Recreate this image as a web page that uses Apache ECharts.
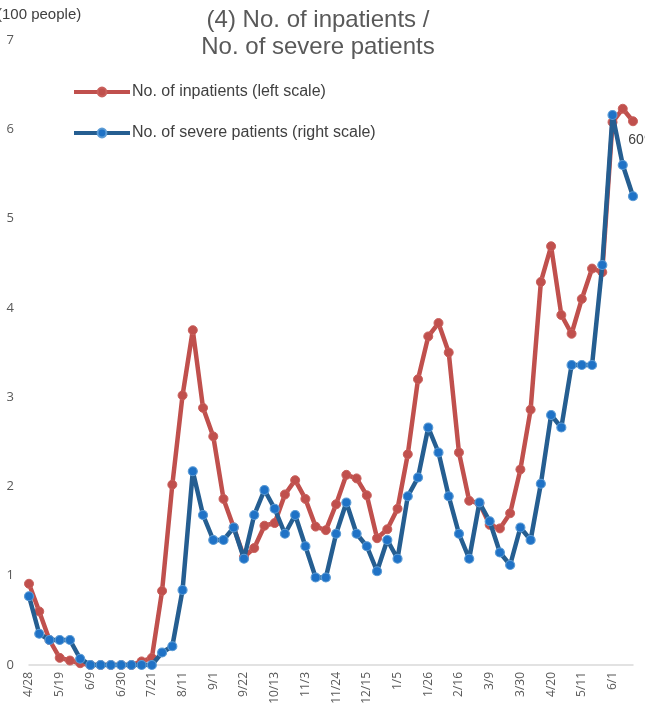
<!DOCTYPE html>
<html><head><meta charset="utf-8">
<script src="https://cdn.jsdelivr.net/npm/echarts@6/dist/echarts.min.js"></script>
<style>html,body{margin:0;padding:0;background:#fff}#c{width:645px;height:721px}</style>
</head><body><div id="c"></div>
<script>
const weeks = ["4/28","5/5","5/12","5/19","5/26","6/2","6/9","6/16","6/23","6/30","7/7","7/14","7/21","7/28","8/4","8/11","8/18","8/25","9/1","9/8","9/15","9/22","9/29","10/6","10/13","10/20","10/27","11/3","11/10","11/17","11/24","12/1","12/8","12/15","12/22","12/29","1/5","1/12","1/19","1/26","2/2","2/9","2/16","2/23","3/2","3/9","3/16","3/23","3/30","4/6","4/13","4/20","4/27","5/4","5/11","5/18","5/25","6/1","6/8","6/15"];
// inpatients, in 100 people (left scale)
const inpatients = [0.91,0.60,0.28,0.08,0.05,0.02,0,0,0,0,0,0.04,0.08,0.83,2.02,3.02,3.75,2.88,2.56,1.86,1.54,1.21,1.31,1.56,1.59,1.91,2.07,1.86,1.55,1.51,1.80,2.13,2.09,1.90,1.42,1.52,1.75,2.36,3.20,3.68,3.83,3.50,2.38,1.84,1.81,1.57,1.53,1.70,2.19,2.86,4.29,4.69,3.92,3.71,4.10,4.44,4.40,6.08,6.23,6.09];
// severe patients, people (right scale)
const severe = [11,5,4,4,4,1,0,0,0,0,0,0,0,2,3,12,31,24,20,20,22,17,24,28,25,21,24,19,14,14,21,26,21,19,15,20,17,27,30,38,34,27,21,17,26,23,18,16,22,20,29,40,38,48,48,48,64,88,80,75];
const lastLabel = "609";

const chart = echarts.init(document.getElementById('c'), null, {renderer:'canvas'});
const redData = inpatients.map((v,i)=> i===inpatients.length-1 ? {value:v, label:{show:true, formatter:lastLabel, position:'bottom', offset:[7,2], color:'#404040', fontSize:14, fontFamily:'Liberation Sans'}} : v);
chart.setOption({
  animation:false,
  title:{text:'(4) No. of inpatients /\nNo. of severe patients', left:318, textAlign:'center', top:7, padding:0,
    textStyle:{fontSize:24, fontWeight:'normal', color:'#595959', fontFamily:'Liberation Sans', lineHeight:27}},
  graphic:[{type:'text', left:-3, top:7, style:{text:'(100 people)', fontSize:15, fill:'#404040', fontFamily:'Liberation Sans'}}],
  legend:{orient:'vertical', left:72, top:84, padding:0, itemWidth:56, itemHeight:11, itemGap:25,
    lineStyle:{width:4},
    textStyle:{fontSize:16, color:'#404040', fontFamily:'Liberation Sans', padding:[0,0,0,-3]},
    data:['No. of inpatients (left scale)','No. of severe patients (right scale)']},
  grid:{left:29, right:12, top:40, bottom:56, containLabel:false},
  xAxis:{type:'category', data:weeks, boundaryGap:false,
    axisLine:{lineStyle:{color:'#d9d9d9', width:1.5}}, axisTick:{show:false},
    axisLabel:{interval:2, rotate:90, color:'#595959', fontSize:12, fontFamily:'Open Sans', margin:7}},
  yAxis:[{type:'value', min:0, max:7, interval:1, splitLine:{show:false}, axisLine:{show:false}, axisTick:{show:false},
    axisLabel:{color:'#595959', fontSize:13, fontFamily:'Open Sans', margin:15}},
    {type:'value', min:0, max:100, show:false, splitLine:{show:false}}],
  series:[
    {name:'No. of inpatients (left scale)', type:'line', yAxisIndex:0, data:redData, symbol:'circle', symbolSize:9, showAllSymbol:true,
      lineStyle:{color:'#C0504D', width:4.5}, itemStyle:{color:'#C0504D', borderColor:'#C9605C', borderWidth:1}, z:2},
    {name:'No. of severe patients (right scale)', type:'line', yAxisIndex:1, data:severe, symbol:'circle', symbolSize:9, showAllSymbol:true,
      lineStyle:{color:'#255E91', width:4.5}, itemStyle:{color:'#1F72C6', borderColor:'#5B9BD5', borderWidth:1.2}, z:3}
  ]
});
</script></body></html>
